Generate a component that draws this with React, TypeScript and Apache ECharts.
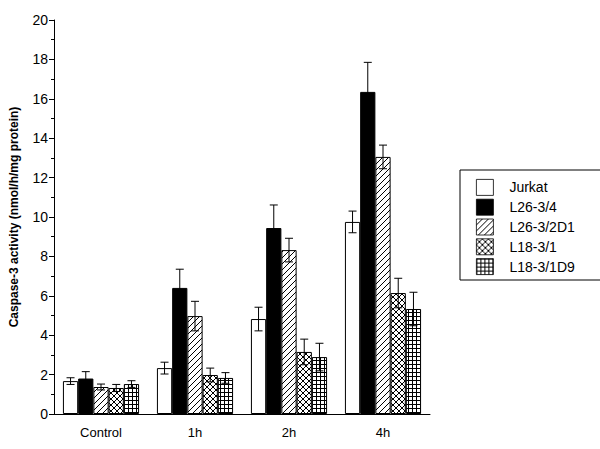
import React, { useEffect, useRef } from "react";
import * as echarts from "echarts";

const categories = ["Control", "1h", "2h", "4h"];
const seriesNames = ["Jurkat", "L26-3/4", "L26-3/2D1", "L18-3/1", "L18-3/1D9"];

const jurkat = [1.67, 2.33, 4.82, 9.75];
const jurkatErr = [0.17, 0.3, 0.6, 0.55];
const l26_34 = [1.8, 6.4, 9.44, 16.35];
const l26_34Err = [0.35, 0.95, 1.17, 1.5];
const l26_2d1 = [1.37, 4.97, 8.32, 13.05];
const l26_2d1Err = [0.15, 0.75, 0.6, 0.6];
const l18_31 = [1.32, 1.98, 3.15, 6.14];
const l18_31Err = [0.18, 0.35, 0.65, 0.75];
const l18_1d9 = [1.52, 1.83, 2.89, 5.33];
const l18_1d9Err = [0.17, 0.27, 0.7, 0.85];

const yTicks = [0, 2, 4, 6, 8, 10, 12, 14, 16, 18, 20];

const values = [jurkat, l26_34, l26_2d1, l18_31, l18_1d9];
const errors = [jurkatErr, l26_34Err, l26_2d1Err, l18_31Err, l18_1d9Err];

const FONT = "'Liberation Sans', Arial, sans-serif";
const GAP = 0.19;

function makeTile(kind: string): HTMLCanvasElement {
  const c = document.createElement("canvas");
  const s = kind === "grid" ? 4 : 6;
  c.width = s;
  c.height = s;
  const g = c.getContext("2d")!;
  g.fillStyle = "#fff";
  g.fillRect(0, 0, s, s);
  g.strokeStyle = "#000";
  g.lineWidth = 1;
  g.beginPath();
  if (kind === "diag" || kind === "cross") {
    g.moveTo(-1, s + 1);
    g.lineTo(s + 1, -1);
    g.moveTo(-1, 1);
    g.lineTo(1, -1);
    g.moveTo(s - 1, s + 1);
    g.lineTo(s + 1, s - 1);
  }
  if (kind === "cross") {
    g.moveTo(-1, -1);
    g.lineTo(s + 1, s + 1);
    g.moveTo(s - 1, -1);
    g.lineTo(s + 1, 1);
    g.moveTo(-1, s - 1);
    g.lineTo(1, s + 1);
  }
  if (kind === "grid") {
    g.moveTo(0.5, 0);
    g.lineTo(0.5, s);
    g.moveTo(0, 0.5);
    g.lineTo(s, 0.5);
  }
  g.stroke();
  return c;
}

export default function App() {
  const ref = useRef<HTMLDivElement>(null);
  useEffect(() => {
    if (!ref.current) return;
    const chart = echarts.init(ref.current, undefined, { renderer: "svg" });
    const fills: any[] = [
      "#ffffff",
      "#000000",
      { image: makeTile("diag"), repeat: "repeat" },
      { image: makeTile("cross"), repeat: "repeat" },
      { image: makeTile("grid"), repeat: "repeat" },
    ];
    const barSeries = seriesNames.map((name, i) => ({
      name,
      type: "bar",
      data: values[i],
      barGap: "0%",
      barCategoryGap: GAP * 100 + "%",
      itemStyle: { color: fills[i], borderColor: "#000", borderWidth: 1 },
      z: 2,
    }));
    const errSeries = seriesNames.map((name, i) => ({
      name: name + " err",
      type: "custom",
      z: 5,
      silent: true,
      data: categories.map((_, j) => [j, values[i][j], errors[i][j]]),
      renderItem: (params: any, api: any) => {
        const idx = api.value(0);
        const v = api.value(1);
        const e = api.value(2);
        const band = api.size([1, 0])[0];
        const bw = (band * (1 - GAP)) / 5;
        const center = api.coord([idx, 0])[0];
        const x = center + (i - 2) * bw;
        const yTop = api.coord([idx, v + e])[1];
        const yBot = api.coord([idx, v - e])[1];
        const cap = 4;
        const st = { stroke: "#000", lineWidth: 1 };
        return {
          type: "group",
          children: [
            { type: "line", shape: { x1: x, y1: yTop, x2: x, y2: yBot }, style: st },
            { type: "line", shape: { x1: x - cap, y1: yTop, x2: x + cap, y2: yTop }, style: st },
            { type: "line", shape: { x1: x - cap, y1: yBot, x2: x + cap, y2: yBot }, style: st },
          ],
        };
      },
    }));
    chart.setOption({
      animation: false,
      backgroundColor: "#fff",
      grid: { left: 53, right: 170, top: 20, bottom: 35, containLabel: false },
      legend: {
        data: seriesNames,
        orient: "vertical",
        left: 460,
        top: 170,
        icon: "rect",
        itemWidth: 17,
        itemHeight: 16,
        itemGap: 3,
        padding: [9, 30, 5, 16],
        borderColor: "#000",
        borderWidth: 1,
        itemStyle: { borderWidth: 0.8, borderColor: "#000" },
        textStyle: {
          color: "#000",
          fontSize: 14,
          lineHeight: 16,
          height: 16,
          fontFamily: FONT,
          padding: [0, 0, 0, 11],
        },
      },
      xAxis: {
        type: "category",
        data: categories,
        axisLine: { lineStyle: { color: "#000", width: 1 } },
        axisTick: { alignWithLabel: true, length: 5, lineStyle: { color: "#000" } },
        axisLabel: { color: "#000", fontSize: 13, fontFamily: FONT, margin: 12 },
      },
      yAxis: {
        type: "value",
        min: yTicks[0],
        max: yTicks[yTicks.length - 1],
        interval: 2,
        name: "Caspase-3 activity (nmol/h/mg protein)",
        nameLocation: "middle",
        nameRotate: 90,
        nameGap: 34,
        nameTextStyle: { color: "#000", fontSize: 12, fontWeight: "bold", fontFamily: FONT },
        axisLine: { show: true, lineStyle: { color: "#000", width: 1 } },
        axisTick: { show: true, length: 5, lineStyle: { color: "#000" } },
        minorTick: { show: true, splitNumber: 2, length: 3, lineStyle: { color: "#000" } },
        splitLine: { show: false },
        axisLabel: { color: "#000", fontSize: 14, fontFamily: FONT, margin: 6 },
      },
      series: [...barSeries, ...errSeries],
    });
    return () => chart.dispose();
  }, []);
  return <div ref={ref} style={{ width: 600, height: 449, position: "absolute", left: 0, top: 0 }} />;
}
